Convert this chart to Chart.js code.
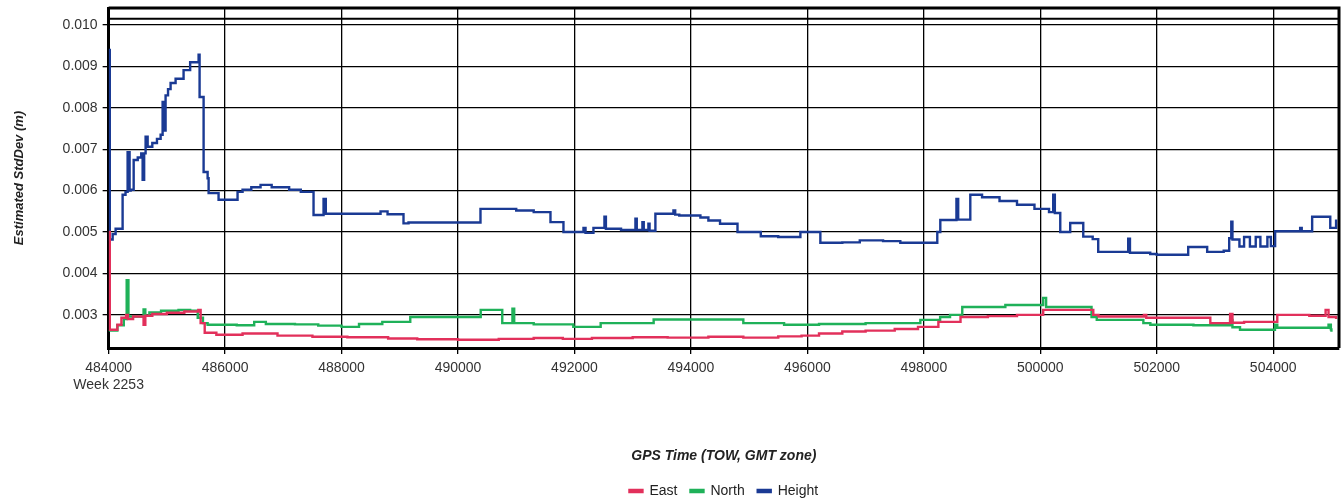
<!DOCTYPE html>
<html>
<head>
<meta charset="utf-8">
<title>Estimated StdDev</title>
<script src="https://cdn.jsdelivr.net/npm/chart.js@4.4.1/dist/chart.umd.min.js"></script>
<style>
    html, body { margin: 0; padding: 0; background: #fff; }
    canvas { display: block; }
</style>
</head>
<body>
<canvas id="stdDevChart" width="1343" height="502"></canvas>
<script>
// tick labels
const xTickValues = [484000, 486000, 488000, 490000, 492000, 494000, 496000, 498000, 500000, 502000, 504000];
const yTickValues = [0.003, 0.004, 0.005, 0.006, 0.007, 0.008, 0.009, 0.010];
const weekLabel = 'Week 2253';
const seriesNames = ['East', 'North', 'Height'];

// Height: time (TOW) where the value changes, and the new value (m)
const heightTime = [484000, 484020, 484069, 484120, 484240, 484290, 484326, 484360, 484378, 484430, 484500, 484560,
    484584, 484610, 484635, 484670, 484750, 484830, 484893, 484927, 484944, 484978, 485020, 485064, 485150, 485287,
    485400, 485545, 485562, 485631, 485700, 485717, 485888, 486214, 486300, 486450, 486609, 486800, 487100, 487300,
    487519, 487691, 487730, 488670, 488790, 489064, 489150, 490386, 491000, 491300, 491588, 491811, 492155, 492190,
    492326, 492515, 492540, 492800, 493047, 493070, 493167, 493190, 493270, 493290, 493390, 493700, 493730, 493800,
    494163, 494300, 494500, 494800, 495200, 495500, 495880, 496223, 496600, 496900, 497300, 497596, 498231, 498283,
    498560, 498590, 498798, 499000, 499300, 499600, 499900, 500150, 500222, 500250, 500343, 500514, 500738, 500900,
    500995, 501510, 501540, 501888, 502000, 502540, 502866, 503150, 503244, 503280, 503300, 503420, 503500, 503600,
    503700, 503780, 503900, 503960, 504033, 504463, 504490, 504669, 504980, 505080];
const heightValue = [0.0094, 0.00482, 0.00495, 0.00508, 0.00590, 0.00597, 0.00693, 0.00600, 0.00602, 0.00674, 0.00680, 0.00690,
    0.00626, 0.00690, 0.00730, 0.00706, 0.00715, 0.00725, 0.00735, 0.00814, 0.00745, 0.00830, 0.00845, 0.00860, 0.00870, 0.00891,
    0.00910, 0.00928, 0.00826, 0.00645, 0.00630, 0.00594, 0.00578, 0.00597, 0.00602, 0.00608, 0.00614, 0.00608, 0.00602, 0.00597,
    0.00541, 0.00580, 0.00544, 0.00550, 0.00543, 0.00521, 0.00523, 0.00556, 0.00552, 0.00548, 0.00524, 0.00500, 0.00510, 0.00498,
    0.00510, 0.00537, 0.00508, 0.00505, 0.00532, 0.00505, 0.00524, 0.00505, 0.00520, 0.00503, 0.00544, 0.00552, 0.00542, 0.00540,
    0.00535, 0.00528, 0.00520, 0.00500, 0.00490, 0.00488, 0.00500, 0.00474, 0.00475, 0.00480, 0.00478, 0.00474, 0.00500, 0.00529,
    0.00580, 0.00530, 0.00590, 0.00584, 0.00575, 0.00566, 0.00556, 0.00548, 0.00590, 0.00546, 0.00500, 0.00522, 0.00489, 0.00483,
    0.00452, 0.00484, 0.00450, 0.00447, 0.00445, 0.00464, 0.00452, 0.00455, 0.00485, 0.00525, 0.00482, 0.00465, 0.00488, 0.00465,
    0.00488, 0.00465, 0.00488, 0.00466, 0.00502, 0.00510, 0.00502, 0.00537, 0.00510, 0.00530];

// North
const northTime = [484000, 484150, 484260, 484310, 484340, 484600, 484630, 484700, 484900, 485200, 485400, 485530,
    485620, 485700, 486200, 486500, 486700, 487200, 487600, 488000, 488300, 488700, 489180, 490390, 490760, 490935,
    490965, 491300, 491980, 492450, 493360, 494900, 495600, 496200, 497000, 497940, 498280, 498450, 498660, 499400,
    500050, 500100, 500880, 500970, 501770, 501890, 502630, 503260, 503300, 503430, 504030, 504070, 504950, 504990, 505000];
const northValue = [0.00262, 0.00275, 0.00290, 0.00384, 0.00296, 0.00313, 0.00298, 0.00306, 0.00310, 0.00312, 0.00310, 0.00293,
    0.00280, 0.00276, 0.00275, 0.00283, 0.00278, 0.00277, 0.00274, 0.00271, 0.00278, 0.00283, 0.00295, 0.00312, 0.00280, 0.00315,
    0.00280, 0.00277, 0.00271, 0.00280, 0.00289, 0.00280, 0.00276, 0.00278, 0.00280, 0.00288, 0.00295, 0.00300, 0.00319, 0.00324,
    0.00341, 0.00319, 0.00295, 0.00288, 0.00280, 0.00276, 0.00275, 0.00288, 0.00270, 0.00264, 0.00276, 0.00269, 0.00276, 0.00265, 0.00259];

// East
const eastTime = [484000, 484020, 484150, 484220, 484300, 484330, 484420, 484600, 484630, 484750, 485000, 485300,
    485540, 485580, 485650, 485850, 486300, 486600, 486900, 487500, 488100, 488800, 489300, 490000, 490700, 491300,
    491800, 492300, 493000, 493600, 494300, 494900, 495500, 495900, 496200, 496600, 497000, 497500, 497900, 498250,
    498630, 499100, 499600, 500050, 500910, 501000, 501780, 501820, 502920, 503260, 503300, 503500, 504070, 504620,
    504900, 504950, 505080];
const eastValue = [0.0050, 0.00264, 0.00276, 0.00293, 0.00300, 0.00290, 0.00296, 0.00276, 0.00298, 0.00302, 0.00305, 0.00308,
    0.00312, 0.00280, 0.00257, 0.00252, 0.00255, 0.00255, 0.00250, 0.00247, 0.00246, 0.00243, 0.00241, 0.00240, 0.00242, 0.00244,
    0.00242, 0.00244, 0.00246, 0.00245, 0.00247, 0.00245, 0.00248, 0.00250, 0.00255, 0.00260, 0.00262, 0.00266, 0.00271, 0.00283,
    0.00295, 0.00297, 0.00300, 0.00312, 0.00300, 0.00296, 0.00300, 0.00293, 0.00280, 0.00302, 0.00281, 0.00283, 0.00300, 0.00298,
    0.00312, 0.00295, 0.00290];

const plotCeiling = 0.01015; // second frame line under the top border

function toPoints(times, values) {
    return times.map((t, i) => ({ x: t, y: values[i] }));
}

const frameLines = {
    id: 'frameLines',
    afterDraw(chart) {
        const ctx = chart.ctx;
        const area = chart.chartArea;
        const yTop = chart.scales.y.getPixelForValue(plotCeiling);
        ctx.save();
        ctx.strokeStyle = '#000';
        ctx.lineWidth = 3;
        ctx.beginPath();
        ctx.moveTo(area.left, area.top);
        ctx.lineTo(area.right, area.top);
        ctx.lineTo(area.right, area.bottom);
        ctx.stroke();
        ctx.lineWidth = 2;
        ctx.beginPath();
        ctx.moveTo(area.left, yTop);
        ctx.lineTo(area.right, yTop);
        ctx.stroke();
        ctx.restore();
    }
};

const fontFamily = '"Liberation Sans", Arial, sans-serif';

const ctx = document.getElementById('stdDevChart').getContext('2d');
const chart = new Chart(ctx, {
    type: 'line',
    data: {
        datasets: [{
            label: seriesNames[0],
            data: toPoints(eastTime, eastValue),
            borderColor: '#e2305b',
            backgroundColor: '#e2305b'
        }, {
            label: seriesNames[1],
            data: toPoints(northTime, northValue),
            borderColor: '#1fb159',
            backgroundColor: '#1fb159'
        }, {
            label: seriesNames[2],
            data: toPoints(heightTime, heightValue),
            borderColor: '#1a3a94',
            backgroundColor: '#1a3a94'
        }]
    },
    options: {
        responsive: false,
        animation: false,
        parsing: false,
        elements: {
            point: { radius: 0 },
            line: { borderWidth: 2.4, stepped: true, tension: 0 }
        },
        layout: { padding: { left: 4, right: 4, top: 8, bottom: -6 } },
        plugins: {
            tooltip: { enabled: false },
            legend: {
                position: 'bottom',
                fullSize: false,
                labels: {
                    boxWidth: 13,
                    boxHeight: 2,
                    padding: 13,
                    color: '#222',
                    font: { family: fontFamily, size: 14 }
                }
            }
        },
        scales: {
            x: {
                type: 'linear',
                min: 484000,
                max: 505130,
                afterBuildTicks: function (axis) {
                    axis.ticks = xTickValues.map(v => ({ value: v }));
                },
                ticks: {
                    autoSkip: false,
                    maxRotation: 0,
                    padding: 6,
                    color: '#333',
                    font: { family: fontFamily, size: 14 },
                    callback: function (value, index) {
                        return index === 0 ? [String(value), weekLabel] : String(value);
                    }
                },
                grid: { color: '#000', lineWidth: 1.3, tickLength: 6, tickColor: '#000' },
                border: { color: '#000', width: 3 },
                title: {
                    display: true,
                    text: 'GPS Time (TOW, GMT zone)',
                    color: '#222',
                    font: { family: fontFamily, size: 14, style: 'italic', weight: 'bold' },
                    padding: { top: 48, bottom: 6.6 }
                }
            },
            y: {
                type: 'linear',
                min: 0.0022,
                max: 0.01041,
                afterBuildTicks: function (axis) {
                    axis.ticks = yTickValues.map(v => ({ value: v }));
                },
                afterFit: function (axis) {
                    // top label sits well inside the plot, no extra room needed
                    axis.paddingTop = 0;
                    axis.paddingBottom = 0;
                },
                ticks: {
                    padding: 5,
                    color: '#333',
                    font: { family: fontFamily, size: 14 },
                    callback: function (value) {
                        return value.toFixed(3);
                    }
                },
                grid: { color: '#000', lineWidth: 1.3, tickLength: 6, tickColor: '#000' },
                border: { color: '#000', width: 3 },
                title: {
                    display: true,
                    text: 'Estimated StdDev (m)',
                    color: '#222',
                    font: { family: fontFamily, size: 13, style: 'italic', weight: 'bold' },
                    padding: { top: 8, bottom: 30 }
                }
            }
        }
    },
    plugins: [frameLines]
});
</script>
</body>
</html>
